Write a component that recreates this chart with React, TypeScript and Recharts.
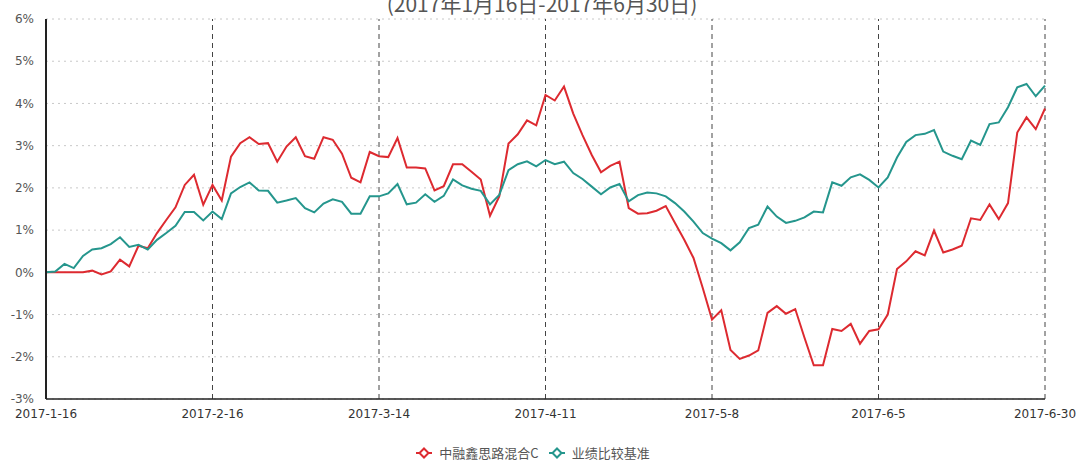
import React from 'react';
import {CartesianGrid, Line, LineChart, ReferenceLine, XAxis, YAxis} from 'recharts';

const dates = [
    '2017-1-16', '2017-1-17', '2017-1-18', '2017-1-19', '2017-1-20', '2017-1-23', '2017-1-24', '2017-1-25', '2017-1-26',
    '2017-2-3', '2017-2-6', '2017-2-7', '2017-2-8', '2017-2-9', '2017-2-10', '2017-2-13', '2017-2-14', '2017-2-15', '2017-2-16',
    '2017-2-17', '2017-2-20', '2017-2-21', '2017-2-22', '2017-2-23', '2017-2-24', '2017-2-27', '2017-2-28', '2017-3-1',
    '2017-3-2', '2017-3-3', '2017-3-6', '2017-3-7', '2017-3-8', '2017-3-9', '2017-3-10', '2017-3-13', '2017-3-14',
    '2017-3-15', '2017-3-16', '2017-3-17', '2017-3-20', '2017-3-21', '2017-3-22', '2017-3-23', '2017-3-24', '2017-3-27',
    '2017-3-28', '2017-3-29', '2017-3-30', '2017-3-31', '2017-4-5', '2017-4-6', '2017-4-7', '2017-4-10', '2017-4-11',
    '2017-4-12', '2017-4-13', '2017-4-14', '2017-4-17', '2017-4-18', '2017-4-19', '2017-4-20', '2017-4-21', '2017-4-24',
    '2017-4-25', '2017-4-26', '2017-4-27', '2017-4-28', '2017-5-2', '2017-5-3', '2017-5-4', '2017-5-5', '2017-5-8',
    '2017-5-9', '2017-5-10', '2017-5-11', '2017-5-12', '2017-5-15', '2017-5-16', '2017-5-17', '2017-5-18', '2017-5-19',
    '2017-5-22', '2017-5-23', '2017-5-24', '2017-5-25', '2017-5-26', '2017-5-31', '2017-6-1', '2017-6-2', '2017-6-5',
    '2017-6-6', '2017-6-7', '2017-6-8', '2017-6-12', '2017-6-13', '2017-6-14', '2017-6-15', '2017-6-16', '2017-6-19',
    '2017-6-20', '2017-6-21', '2017-6-22', '2017-6-23', '2017-6-26', '2017-6-27', '2017-6-28', '2017-6-29', '2017-6-30',
];

// 中融鑫思路混合C (%)
const fund = [
    0, 0, 0, 0, 0, 0.04, -0.05, 0.02, 0.3, 0.14,
    0.63, 0.57, 0.93, 1.24, 1.54, 2.07, 2.31, 1.6, 2.07, 1.7,
    2.74, 3.06, 3.2, 3.04, 3.06, 2.62, 2.98, 3.2, 2.75, 2.69,
    3.2, 3.14, 2.81, 2.24, 2.13, 2.85, 2.75, 2.73, 3.18, 2.48,
    2.48, 2.46, 1.94, 2.04, 2.56, 2.56, 2.38, 2.2, 1.34, 1.8,
    3.05, 3.27, 3.6, 3.48, 4.2, 4.07, 4.4, 3.76, 3.25, 2.78,
    2.37, 2.52, 2.62, 1.52, 1.39, 1.4, 1.46, 1.57, 1.17, 0.77,
    0.34, -0.37, -1.12, -0.9, -1.84, -2.05, -1.97, -1.85, -0.96, -0.8,
    -0.98, -0.87, -1.55, -2.2, -2.2, -1.34, -1.39, -1.22, -1.69, -1.39,
    -1.35, -1.0, 0.08, 0.26, 0.5, 0.4, 0.99, 0.47, 0.54, 0.63,
    1.28, 1.24, 1.61, 1.26, 1.64, 3.31, 3.67, 3.39, 3.88,
];

// 业绩比较基准 (%)
const benchmark = [
    0, 0.02, 0.2, 0.1, 0.39, 0.54, 0.57, 0.67, 0.83, 0.6,
    0.65, 0.54, 0.77, 0.93, 1.1, 1.43, 1.43, 1.23, 1.44, 1.26,
    1.87, 2.02, 2.13, 1.94, 1.93, 1.65, 1.7, 1.76, 1.52, 1.42,
    1.63, 1.73, 1.67, 1.39, 1.39, 1.8, 1.8, 1.87, 2.09, 1.61,
    1.65, 1.85, 1.67, 1.81, 2.2, 2.06, 1.98, 1.93, 1.61, 1.83,
    2.42, 2.56, 2.63, 2.51, 2.66, 2.56, 2.62, 2.35, 2.21, 2.03,
    1.85, 2.01, 2.09, 1.68, 1.83, 1.89, 1.87, 1.8, 1.64, 1.44,
    1.2, 0.93, 0.8, 0.69, 0.52, 0.71, 1.05, 1.13, 1.56, 1.32,
    1.17, 1.22, 1.3, 1.44, 1.42, 2.13, 2.05, 2.25, 2.32, 2.19,
    2.01, 2.25, 2.72, 3.09, 3.25, 3.28, 3.37, 2.86, 2.76, 2.68,
    3.12, 3.02, 3.51, 3.55, 3.91, 4.38, 4.46, 4.17, 4.42,
];

const tickDates = ['2017-2-16', '2017-3-14', '2017-4-11', '2017-5-8', '2017-6-5', '2017-6-30'];
const yTicks = [-3, -2, -1, 0, 1, 2, 3, 4, 5, 6];

const legendItems = [
    {name: '中融鑫思路混合C', color: '#dd2a30'},
    {name: '业绩比较基准', color: '#25968d'},
];

const data = dates.map((d, i) => ({date: d, fund: fund[i], benchmark: benchmark[i]}));

function Diamond({color}: {color: string}) {
    return (
        <svg width={16} height={12} style={{display: 'block'}}>
            <line x1={0} y1={6} x2={16} y2={6} stroke={color} strokeWidth={2}/>
            <polygon points="8,1.5 12.5,6 8,10.5 3.5,6" fill="#fff" stroke={color} strokeWidth={2}/>
        </svg>
    );
}

export default function App() {
    return (
        <div style={{position: 'absolute', left: 0, top: 0, width: 1084, height: 461, background: '#fff', overflow: 'hidden', fontFamily: '"DejaVu Sans", sans-serif'}}>
            <div style={{position: 'absolute', top: -7, left: 0, width: 1084, textAlign: 'center', fontSize: 21, lineHeight: '21px', color: '#555', fontFamily: '"Noto Sans CJK SC", sans-serif'}}>
                (2017年1月16日-2017年6月30日)
            </div>
            <LineChart width={1084} height={461} data={data} margin={{top: 19, right: 39, bottom: 32, left: 6}}>
                <CartesianGrid horizontal vertical={false} stroke="#c8c8c8" strokeDasharray="2 4"/>
                {tickDates.map(d => (
                    <ReferenceLine key={d} x={d} stroke="#444" strokeDasharray="5 4" strokeWidth={1}/>
                ))}
                <XAxis
                    dataKey="date"
                    interval={17}
                    tickLine={false}
                    axisLine={{stroke: '#222', strokeWidth: 1.5}}
                    tick={{fill: '#333', fontSize: 12}}
                    tickMargin={4}
                    height={30}
                />
                <YAxis
                    domain={[-3, 6]}
                    ticks={yTicks}
                    tickFormatter={(v: number) => v + '%'}
                    tickLine={false}
                    axisLine={{stroke: '#222', strokeWidth: 2}}
                    tick={{fill: '#555', fontSize: 12}}
                    tickMargin={6}
                    width={40}
                />
                <Line type="linear" dataKey="fund" stroke="#dd2a30" strokeWidth={2} dot={false} isAnimationActive={false}/>
                <Line type="linear" dataKey="benchmark" stroke="#25968d" strokeWidth={2} dot={false} isAnimationActive={false}/>
            </LineChart>
            <div style={{position: 'absolute', top: 445, left: 0, width: 1066, height: 16, display: 'flex', justifyContent: 'center', gap: 10}}>
                {legendItems.map(item => (
                    <div key={item.name} style={{display: 'flex', alignItems: 'center', gap: 7, fontSize: 13, lineHeight: '16px', color: '#555', fontFamily: '"Noto Sans CJK SC", sans-serif'}}>
                        <Diamond color={item.color}/>
                        <span>{item.name}</span>
                    </div>
                ))}
            </div>
        </div>
    );
}
